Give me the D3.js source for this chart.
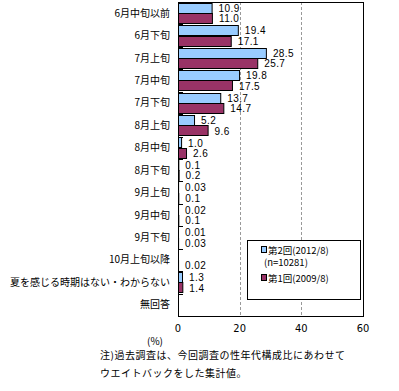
<!DOCTYPE html>
<meta charset="utf-8">
<style>
  body { margin: 0; background: #fff; }
  .cat { font-size: 10px; font-family: "Noto Sans CJK JP", sans-serif; text-anchor: end; }
  .val { font-size: 10px; font-family: "Liberation Sans", sans-serif; letter-spacing: 0.4px; }
  .tick { font-size: 11px; font-family: "DejaVu Sans Condensed", "Liberation Sans", sans-serif; text-anchor: middle; }
  .note { font-size: 10px; font-family: "Noto Sans CJK JP", sans-serif; }
  .legend { font-size: 9.5px; font-family: "Noto Sans CJK JP", sans-serif; }
</style>
<svg width="399" height="391"></svg>
<script src="https://d3js.org/d3.v7.min.js"></script>
<script>

// categories and the two survey series
var categories = ['6月中旬以前', '6月下旬', '7月上旬', '7月中旬', '7月下旬', '8月上旬', '8月中旬',
  '8月下旬', '9月上旬', '9月中旬', '9月下旬', '10月上旬以降', '夏を感じる時期はない・わからない', '無回答'];
var round2 = [10.9, 19.4, 28.5, 19.8, 13.7, 5.2, 1.0, 0.1, 0.03, 0.02, 0.01, null, 1.3, null];
var round1 = [11.0, 17.1, 25.7, 17.5, 14.7, 9.6, 2.6, 0.2, 0.1, 0.1, 0.03, 0.02, 1.4, null];
var round2Labels = ['10.9', '19.4', '28.5', '19.8', '13.7', '5.2', '1.0', '0.1', '0.03', '0.02', '0.01', '', '1.3', ''];
var round1Labels = ['11.0', '17.1', '25.7', '17.5', '14.7', '9.6', '2.6', '0.2', '0.1', '0.1', '0.03', '0.02', '1.4', ''];
var xTicks = [0, 20, 40, 60];
var seriesNames = ['第2回(2012/8)', '第1回(2009/8)'];

var svg = d3.select('svg');
var plotLeft = 178, plotRight = 363, plotTop = 2, plotBottom = 316;

var x = d3.scaleLinear().domain([0, 60]).range([plotLeft, plotRight]);
var y = d3.scaleBand().domain(categories).range([plotTop, plotBottom]);
var sub = d3.scaleBand().domain([0, 1]).range([0, y.bandwidth()]).paddingOuter(0.09);

// gridlines
svg.selectAll('line.grid')
  .data([20, 40])
  .enter().append('line')
    .attr('x1', d => Math.round(x(d)) + 0.5).attr('x2', d => Math.round(x(d)) + 0.5)
    .attr('y1', plotTop).attr('y2', plotBottom)
    .attr('stroke', '#999').attr('stroke-dasharray', '3,2');

// plot frame
svg.append('rect')
  .attr('x', plotLeft + 0.5).attr('y', plotTop + 0.5)
  .attr('width', plotRight - plotLeft).attr('height', plotBottom - plotTop)
  .attr('fill', 'none').attr('stroke', '#000');

// category boundary ticks
svg.selectAll('line.cb')
  .data(categories.slice(1))
  .enter().append('line')
    .attr('x1', plotLeft).attr('x2', plotLeft + 5)
    .attr('y1', d => Math.round(y(d)) + 0.5).attr('y2', d => Math.round(y(d)) + 0.5)
    .attr('stroke', '#000');

var series = [
  { vals: round2, labels: round2Labels, color: '#99ccff' },
  { vals: round1, labels: round1Labels, color: '#993366' }
];

series.forEach(function(s, si) {
  var rows = categories.map((c, i) => ({ c: c, v: s.vals[i], l: s.labels[i] }))
    .filter(d => d.v !== null);
  svg.append('g').selectAll('rect')
    .data(rows)
    .enter().append('rect')
      .attr('x', plotLeft + 0.5)
      .attr('y', d => Math.round(y(d.c) + sub(si)) + 0.5)
      .attr('width', d => Math.max(0, x(d.v) - plotLeft))
      .attr('height', Math.round(sub.bandwidth()))
      .attr('fill', s.color)
      .attr('stroke', '#000');
  svg.append('g').selectAll('text')
    .data(rows)
    .enter().append('text')
      .attr('class', 'val')
      .attr('x', d => x(d.v) + 7)
      .attr('y', d => y(d.c) + sub(si) + sub.bandwidth() / 2 + 4)
      .text(d => d.l);
});

// category labels
svg.selectAll('text.cat')
  .data(categories)
  .enter().append('text')
    .attr('class', 'cat')
    .attr('x', 170)
    .attr('y', d => y(d) + y.bandwidth() / 2 + 3.5)
    .text(d => d);

// x tick labels
svg.selectAll('text.tick')
  .data(xTicks)
  .enter().append('text')
    .attr('class', 'tick')
    .attr('x', d => x(d))
    .attr('y', 332)
    .text(d => d);

svg.append('text').attr('class', 'note')
  .attr('x', 155).attr('y', 345).attr('text-anchor', 'middle').text('(%)');

// legend
var lg = svg.append('g');
lg.append('rect')
  .attr('x', 247.5).attr('y', 240.5).attr('width', 113).attr('height', 59)
  .attr('fill', '#fff').attr('stroke', '#000');
[[250, 0], [278, 1]].forEach(function(p) {
  lg.append('rect').attr('x', 261.5).attr('y', p[0] - 3.5).attr('width', 5).attr('height', 6)
    .attr('fill', series[p[1]].color).attr('stroke', '#000');
  lg.append('text').attr('class', 'legend').attr('x', 268).attr('y', p[0] + 3.5).text(seriesNames[p[1]]);
});
lg.append('text').attr('class', 'legend').attr('x', 264).attr('y', 265.5).text('(n=10281)');

// footnote
svg.append('text').attr('class', 'note').attr('x', 100).attr('y', 359)
  .attr('letter-spacing', '0.5px')
  .text('注)過去調査は、今回調査の性年代構成比にあわせて');
svg.append('text').attr('class', 'note').attr('x', 100).attr('y', 377)
  .attr('letter-spacing', '0.5px')
  .text('ウエイトバックをした集計値。');

</script>
